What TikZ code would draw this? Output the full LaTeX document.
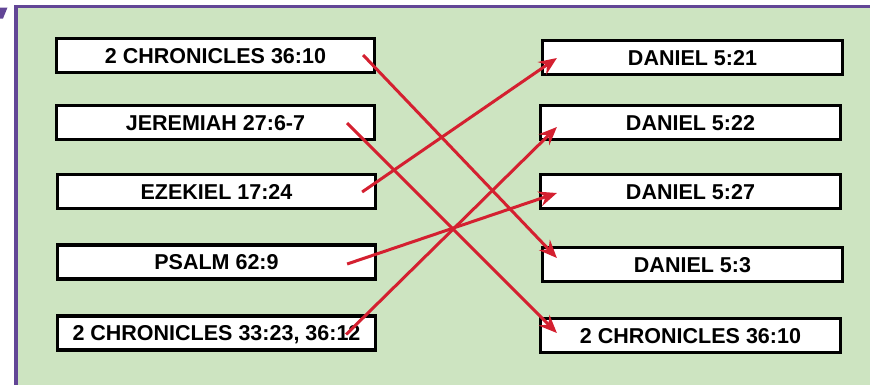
\documentclass[tikz,border=0pt]{standalone}
\usepackage{fontspec}
\setmainfont{Liberation Sans}
\usetikzlibrary{arrows.meta,calc}
\definecolor{framepurple}{RGB}{98,70,150}
\definecolor{bggreen}{RGB}{205,228,193}
\definecolor{arrowred}{RGB}{212,32,48}
\begin{document}
\begin{tikzpicture}[x=1pt,y=-1pt,
  refbox/.style={draw=black, line width=3.2pt, fill=white, inner sep=0pt,
    minimum height=34pt, text height=15.4pt, text depth=0pt,
    font=\fontsize{21.5}{24}\selectfont\bfseries},
  leftbox/.style={refbox, minimum width=318pt},
  rightbox/.style={refbox, minimum width=300pt},
  link/.style={draw=arrowred, line width=3pt,
    -{Stealth[length=18pt,width=15pt,inset=6pt]}}]
\useasboundingbox (0,0) rectangle (870,384);
% frame
\draw[framepurple, line width=3.6pt, fill=bggreen] (16,6.5) rectangle (890,400);
\fill[framepurple] (0,7.5) -- (7.5,7.5) -- (3,18.5) -- (0,18.5) -- cycle;
% left column
\node[leftbox] (L1) at (215.5,55.5) {2 CHRONICLES 36:10};
\node[leftbox] (L2) at (215.5,122.5) {JEREMIAH 27:6-7};
\node[leftbox] (L3) at (216.5,191.5) {EZEKIEL 17:24};
\node[leftbox] (L4) at (216.5,262) {PSALM 62:9};
\node[leftbox] (L5) at (216.5,333) {2 CHRONICLES 33:23, 36:12};
% right column
\node[rightbox] (R1) at (692.5,57.5) {DANIEL 5:21};
\node[rightbox] (R2) at (690.5,122.5) {DANIEL 5:22};
\node[rightbox] (R3) at (690.5,191.5) {DANIEL 5:27};
\node[rightbox] (R4) at (692.5,264.5) {DANIEL 5:3};
\node[rightbox] (R5) at (690.5,335.5) {2 CHRONICLES 36:10};
% connector end points
\coordinate (s1) at ($(L1.east)+(-13,-0.5)$);
\coordinate (s2) at ($(L2.east)+(-29,0.5)$);
\coordinate (s3) at ($(L3.east)+(-15,0.5)$);
\coordinate (s4) at ($(L4.east)+(-30,2)$);
\coordinate (s5) at ($(L5.east)+(-31,1.5)$);
\coordinate (t1) at ($(R4.west)+(16,-6.5)$);
\coordinate (t2) at ($(R5.west)+(18,-2.5)$);
\coordinate (t3) at ($(R1.west)+(16,0.5)$);
\coordinate (t4) at ($(R3.west)+(18,1.5)$);
\coordinate (t5) at ($(R2.west)+(18,4.5)$);
% connectors
\draw[link] (s1) -- (t1);
\draw[link] (s2) -- (t2);
\draw[link] (s3) -- (t3);
\draw[link] (s4) -- (t4);
\draw[link] (s5) -- (t5);
\end{tikzpicture}
\end{document}
